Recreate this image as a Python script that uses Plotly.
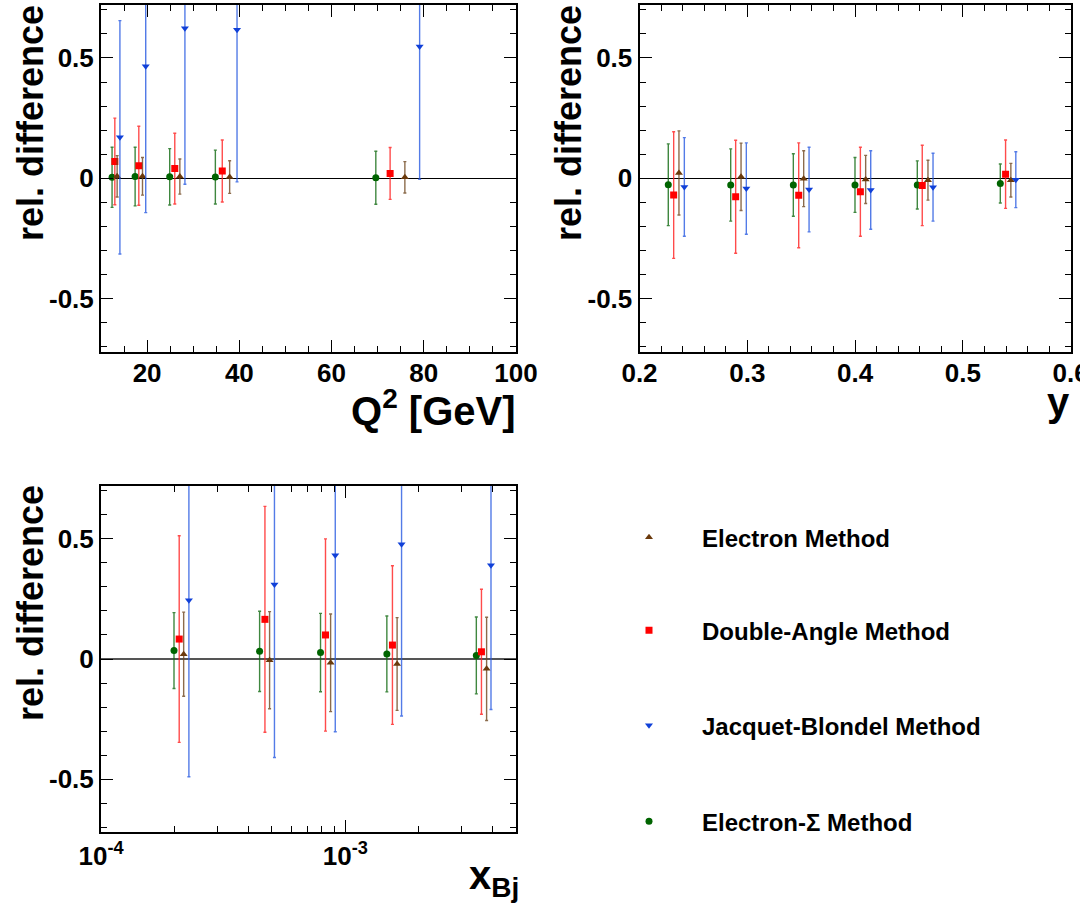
import numpy as np
import plotly.graph_objects as go

W, H = 1080, 906

# ---------------- data ----------------
methods = ["Electron Method", "Double-Angle Method", "Jacquet-Blondel Method", "Electron-\u03a3 Method"]
symbols = ["triangle-up", "square", "triangle-down", "circle"]
marker_colors = ["#6b3a0c", "#ff0000", "#1040d8", "#006400"]
err_colors = ["rgba(110,70,30,0.8)", "rgba(255,30,30,0.8)", "rgba(40,90,225,0.8)", "rgba(15,105,15,0.8)"]

# Q^2 panel
q2_x = {
    "Electron Method": [13.5, 19.0, 27.1, 37.9, 75.9],
    "Double-Angle Method": [13.0, 18.2, 26.0, 36.3, 72.7],
    "Jacquet-Blondel Method": [14.1, 19.7, 28.2, 39.5, 79.1],
    "Electron-\u03a3 Method": [12.4, 17.4, 24.9, 34.8, 69.6],
}
q2_val = {
    "Electron Method": [0.008, 0.008, 0.007, 0.005, 0.004],
    "Double-Angle Method": [0.070, 0.052, 0.040, 0.030, 0.020],
    "Jacquet-Blondel Method": [0.170, 0.465, 0.623, 0.617, 0.548],
    "Electron-\u03a3 Method": [0.004, 0.007, 0.006, 0.005, 0.002],
}
q2_err = {
    "Electron Method": [0.086, 0.078, 0.073, 0.068, 0.065],
    "Double-Angle Method": [0.180, 0.164, 0.147, 0.129, 0.108],
    "Jacquet-Blondel Method": [0.485, 0.608, 0.648, 0.632, 0.552],
    "Electron-\u03a3 Method": [0.125, 0.122, 0.117, 0.112, 0.110],
}

# y panel
y_x = {
    "Electron Method": [0.2366, 0.2942, 0.3523, 0.4098, 0.4676, 0.5445],
    "Double-Angle Method": [0.2317, 0.2892, 0.3477, 0.4049, 0.4623, 0.5396],
    "Jacquet-Blondel Method": [0.2416, 0.2991, 0.3573, 0.4145, 0.4723, 0.5491],
    "Electron-\u03a3 Method": [0.2267, 0.2846, 0.3427, 0.3999, 0.4577, 0.5347],
}
y_val = {
    "Electron Method": [0.022, 0.006, -0.002, -0.005, -0.008, -0.008],
    "Double-Angle Method": [-0.070, -0.077, -0.071, -0.056, -0.030, 0.017],
    "Jacquet-Blondel Method": [-0.036, -0.043, -0.047, -0.049, -0.037, -0.006],
    "Electron-\u03a3 Method": [-0.027, -0.028, -0.028, -0.028, -0.028, -0.022],
}
y_err = {
    "Electron Method": [0.175, 0.140, 0.116, 0.100, 0.083, 0.070],
    "Double-Angle Method": [0.263, 0.235, 0.218, 0.185, 0.167, 0.142],
    "Jacquet-Blondel Method": [0.205, 0.190, 0.176, 0.163, 0.141, 0.116],
    "Electron-\u03a3 Method": [0.170, 0.150, 0.130, 0.114, 0.100, 0.081],
}

# x_Bj panel
xb_x = {
    "Electron Method": [2.18e-4, 4.90e-4, 8.71e-4, 1.63e-3, 3.79e-3],
    "Double-Angle Method": [2.09e-4, 4.69e-4, 8.30e-4, 1.56e-3, 3.61e-3],
    "Jacquet-Blondel Method": [2.29e-4, 5.13e-4, 9.10e-4, 1.70e-3, 3.95e-3],
    "Electron-\u03a3 Method": [1.99e-4, 4.46e-4, 7.92e-4, 1.48e-3, 3.44e-3],
}
xb_val = {
    "Electron Method": [0.020, -0.005, -0.016, -0.021, -0.041],
    "Double-Angle Method": [0.083, 0.165, 0.100, 0.058, 0.030],
    "Jacquet-Blondel Method": [0.245, 0.310, 0.432, 0.478, 0.390],
    "Electron-\u03a3 Method": [0.035, 0.032, 0.027, 0.021, 0.015],
}
xb_err = {
    "Electron Method": [0.175, 0.202, 0.203, 0.193, 0.215],
    "Double-Angle Method": [0.430, 0.470, 0.400, 0.330, 0.260],
    "Jacquet-Blondel Method": [0.735, 0.720, 0.735, 0.715, 0.600],
    "Electron-\u03a3 Method": [0.158, 0.167, 0.163, 0.158, 0.160],
}

y_ticks = [-0.5, 0, 0.5]
y_ticktext = ["-0.5", "0", "0.5"]
q2_ticks = [20, 40, 60, 80, 100]
yv_ticks = [0.2, 0.3, 0.4, 0.5, 0.6]
yv_ticktext = ["0.2", "0.3", "0.4", "0.5", "0.6"]
xb_ticks = [1e-4, 1e-3]
xb_ticktext = ["10<sup>-4</sup>", "10<sup>-3</sup>"]
xb_minor = [2e-4, 3e-4, 4e-4, 5e-4, 6e-4, 7e-4, 8e-4, 9e-4, 2e-3, 3e-3, 4e-3, 5e-3]

# ---------------- figure ----------------
FONT = "Liberation Sans, Arial, Helvetica, sans-serif"
fig = go.Figure()

panels = [
    ("x", "y", q2_x, q2_val, q2_err),
    ("x2", "y2", y_x, y_val, y_err),
    ("x3", "y3", xb_x, xb_val, xb_err),
]
legend_names = ["legend", "legend2", "legend3", "legend4"]
draw_order = [3, 1, 0, 2]
for pi, (xa, ya, dx, dv, de) in enumerate(panels):
    for k in draw_order:
        m = methods[k]
        fig.add_trace(go.Scatter(
            x=dx[m], y=dv[m], mode="markers", name=m,
            xaxis=xa, yaxis=ya,
            marker=dict(symbol=symbols[k], size=7, color=marker_colors[k], line=dict(width=0)),
            error_y=dict(type="data", array=de[m], color=err_colors[k], thickness=1.4, width=1.5),
            showlegend=(pi == 0), legend=legend_names[k],
        ))

def px_x(p):
    return p / W

def px_y(p):
    return 1 - p / H

common_axis = dict(
    showline=True, linecolor="black", linewidth=2, mirror="ticks",
    ticks="inside", ticklen=12, tickwidth=1.3, tickcolor="black",
    showgrid=False, zeroline=False, automargin=False, ticklabeloverflow="allow",
    tickfont=dict(family=FONT, size=26, color="black", weight="bold"),
)
minor_common = dict(ticks="inside", ticklen=6, tickwidth=1.3, tickcolor="black", showgrid=False)

xd1 = [px_x(101), px_x(516)]
xd2 = [px_x(639.5), px_x(1070.7)]
yd_top = [px_y(351.5), px_y(5)]
yd_bot = [px_y(832), px_y(486)]

yaxis_common = dict(common_axis, range=[-0.72, 0.72], tickvals=y_ticks, ticktext=y_ticktext,
                    minor=dict(minor_common, dtick=0.1, tick0=0),
                    zeroline=True, zerolinecolor="black", zerolinewidth=1)

fig.update_layout(
    width=W, height=H,
    margin=dict(l=0, r=0, t=0, b=0),
    paper_bgcolor="white", plot_bgcolor="white",
    xaxis=dict(common_axis, domain=xd1, anchor="y", range=[10, 100.0001], tickvals=q2_ticks,
               ticklabelstandoff=-3, minor=dict(minor_common, dtick=5, tick0=0)),
    yaxis=dict(yaxis_common, domain=yd_top, anchor="x"),
    xaxis2=dict(common_axis, domain=xd2, anchor="y2", range=[0.2, 0.60001], tickvals=yv_ticks,
                ticktext=yv_ticktext, ticklabelstandoff=-3,
                minor=dict(minor_common, dtick=0.02, tick0=0.2)),
    yaxis2=dict(yaxis_common, domain=yd_top, anchor="x2"),
    xaxis3=dict(common_axis, domain=xd1, anchor="y3", type="log", range=[-4, np.log10(5e-3)],
                tickvals=xb_ticks, ticktext=xb_ticktext,
                minor=dict(minor_common, tickvals=xb_minor)),
    yaxis3=dict(yaxis_common, domain=yd_bot, anchor="x3", zerolinecolor="#555555", zerolinewidth=1.5),
)

legend_y = [537.7, 630.7, 725.7, 821.7]
for name, yy in zip(legend_names, legend_y):
    fig.update_layout({name: dict(
        x=px_x(596), y=px_y(yy), xanchor="left", yanchor="middle",
        bgcolor="rgba(0,0,0,0)", borderwidth=0, itemwidth=96,
        font=dict(family=FONT, size=24, color="black", weight="bold"),
    )})

title_font = dict(family=FONT, size=36, color="black", weight="bold")
xt_font = dict(family=FONT, size=40, color="black", weight="bold")
annots = [
    dict(text="rel. difference", x=px_x(30), y=px_y(3), xanchor="center", yanchor="top", textangle=-90, font=title_font),
    dict(text="rel. difference", x=px_x(568), y=px_y(3), xanchor="center", yanchor="top", textangle=-90, font=title_font),
    dict(text="rel. difference", x=px_x(30), y=px_y(483), xanchor="center", yanchor="top", textangle=-90, font=title_font),
    dict(text="Q<sup>2</sup> [GeV]", x=px_x(518), y=px_y(408), xanchor="right", yanchor="middle", font=xt_font),
    dict(text="y", x=px_x(1072), y=px_y(402), xanchor="right", yanchor="middle", font=xt_font),
    dict(text="x<sub>Bj</sub>", x=px_x(521), y=px_y(878), xanchor="right", yanchor="middle", font=xt_font),
]
for a in annots:
    a.update(xref="paper", yref="paper", showarrow=False)
fig.update_layout(annotations=annots)

fig.write_html("out.html")
